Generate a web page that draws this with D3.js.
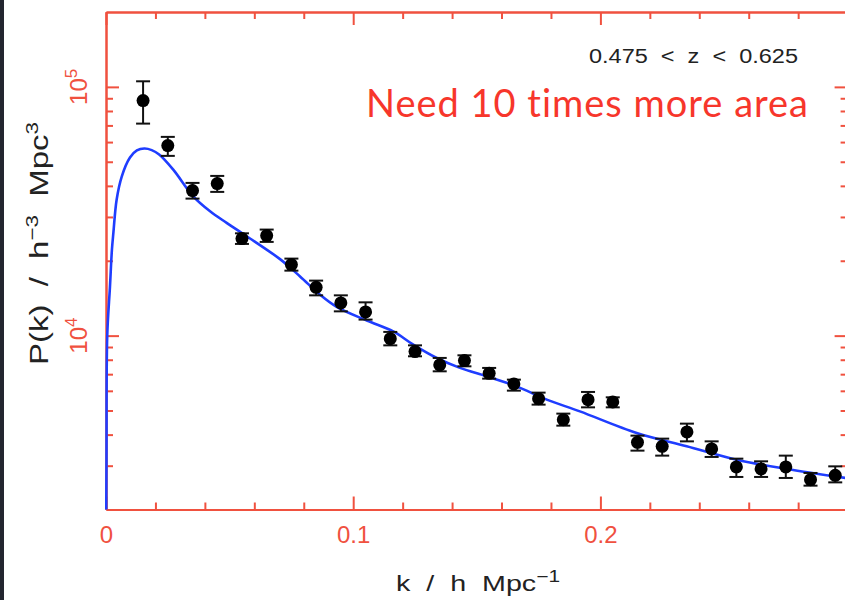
<!DOCTYPE html>
<html><head><meta charset="utf-8">
<script src="https://cdn.jsdelivr.net/npm/d3@7"></script>
<style>
html,body{margin:0;padding:0;background:#fff;overflow:hidden;}
svg{display:block;}
</style></head><body>
<svg id="c" width="845" height="600" font-family="Liberation Sans, Arial, Helvetica, sans-serif"></svg>
<script>
// ---- data ----
const kValues = [0.015,0.025,0.035,0.045,0.055,0.065,0.075,0.085,0.095,0.105,0.115,0.125,0.135,0.145,0.155,0.165,0.175,0.185,0.195,0.205,0.215,0.225,0.235,0.245,0.255,0.265,0.275,0.285,0.295];
const pValues = [88100,58070,38280,40850,24550,25240,19300,15640,13540,12450,9725,8626,7625,7935,7055,6395,5581,4594,5530,5413,3724,3588,4101,3503,2965,2911,2965,2636,2744];
const pUpper  = [105300,62950,41110,43860,25780,26690,20400,16640,14520,13610,10350,9140,8135,8335,7416,6654,5900,4858,5937,5649,3962,3854,4428,3758,3202,3124,3293,2805,2982];
const pLower  = [71180,52800,35550,37830,23370,23810,18250,14520,12520,11600,9140,8260,7187,7527,6716,6010,5280,4346,5149,5149,3449,3293,3758,3253,2703,2703,2678,2494,2571];

const modelK = [0,0.0002,0.0005,0.0016,0.0024,0.003,0.0043,0.0064,0.0097,0.0125,0.0155,0.0185,0.0215,0.0272,0.0353,0.0421,0.0488,0.0569,0.0704,0.0785,0.0866,0.0933,0.1055,0.1162,0.1243,0.1338,0.1432,0.154,0.1661,0.1783,0.1917,0.2147,0.2349,0.2551,0.2754,0.3];
const modelP = [1000,3200,10000,15700,22200,26000,35200,43700,52000,55500,56500,55700,53500,46500,36300,31600,28400,25100,20300,17300,14600,13050,11500,10400,9200,8130,7420,6860,6250,5530,4960,4060,3590,3170,2910,2670];

const xMajorTicks = [0,0.1,0.2];
const xTickLabels = ["0","0.1","0.2"];
const xMinorTicks = [0.02,0.04,0.06,0.08,0.12,0.14,0.16,0.18,0.22,0.24,0.26,0.28];
const yMajorTicks = [10000,100000];
const yTickExponents = ["4","5"];
const yMinorTicks = [3000,4000,5000,6000,7000,8000,9000,20000,30000,40000,50000,60000,70000,80000,90000];

const zRangeLabel = "0.475  <  z  <  0.625";
const annotation = "Need 10 times more area";

// ---- layout ----
const AXIS = "#f0513f", BLUE = "#1f3dff";
const L = 106, R = 847.6, T = 12, B = 509.5;
const svg = d3.select("#c");

svg.append("rect").attr("x",0).attr("y",0).attr("width",845).attr("height",600).attr("fill","#fff");
svg.append("rect").attr("x",0).attr("y",0).attr("width",4).attr("height",600).attr("fill","#23252f");

const x = d3.scaleLinear().domain([0,0.3]).range([L,R]);
const y = d3.scaleLog().domain([2000,200000]).range([B,T]);

function styleAxis(g){
  g.attr("font-family",null);
  g.selectAll("path.domain").attr("stroke",AXIS).attr("stroke-width",2);
  g.selectAll(".tick line").attr("stroke",AXIS).attr("stroke-width",2);
  g.selectAll(".tick text").attr("fill",AXIS);
}

// bottom
const gb = svg.append("g").attr("transform",`translate(0,${B})`)
  .call(d3.axisBottom(x).tickValues(xMajorTicks).tickSizeInner(-13).tickSizeOuter(0).tickPadding(16)
        .tickFormat((d,i)=>xTickLabels[i]));
styleAxis(gb);
gb.attr("font-size",24);
const gbm = svg.append("g").attr("transform",`translate(0,${B})`)
  .call(d3.axisBottom(x).tickValues(xMinorTicks).tickSizeInner(-7).tickSizeOuter(0).tickFormat(""));
styleAxis(gbm);
// top
const gt = svg.append("g").attr("transform",`translate(0,${T})`)
  .call(d3.axisTop(x).tickValues(xMajorTicks).tickSizeInner(-13).tickSizeOuter(0).tickFormat(""));
styleAxis(gt);
const gtm = svg.append("g").attr("transform",`translate(0,${T})`)
  .call(d3.axisTop(x).tickValues(xMinorTicks).tickSizeInner(-7).tickSizeOuter(0).tickFormat(""));
styleAxis(gtm);
// left
const gl = svg.append("g").attr("transform",`translate(${L},0)`)
  .call(d3.axisLeft(y).tickValues(yMajorTicks).tickSizeInner(-13).tickSizeOuter(0).tickFormat(""));
styleAxis(gl);
const glm = svg.append("g").attr("transform",`translate(${L},0)`)
  .call(d3.axisLeft(y).tickValues(yMinorTicks).tickSizeInner(-7).tickSizeOuter(0).tickFormat(""));
styleAxis(glm);
// right
const gr = svg.append("g").attr("transform",`translate(${R},0)`)
  .call(d3.axisRight(y).tickValues(yMajorTicks).tickSizeInner(-13).tickSizeOuter(0).tickFormat(""));
styleAxis(gr);
const grm = svg.append("g").attr("transform",`translate(${R},0)`)
  .call(d3.axisRight(y).tickValues(yMinorTicks).tickSizeInner(-7).tickSizeOuter(0).tickFormat(""));
styleAxis(grm);

// y tick labels (10^n), rotated
yMajorTicks.forEach((v,i)=>{
  const t = svg.append("text")
    .attr("transform",`translate(87,${y(v)}) rotate(-90)`)
    .attr("text-anchor","middle").attr("fill",AXIS).attr("font-size",24);
  t.append("tspan").text("10");
  t.append("tspan").attr("dy",-10).attr("font-size",17).text(yTickExponents[i]);
});

// clip
svg.append("clipPath").attr("id","clip").append("rect")
  .attr("x",L-1.5).attr("y",T).attr("width",R-L+2).attr("height",B-T);

// model curve
const line = d3.line().x(d=>x(d[0])).y(d=>y(d[1])).curve(d3.curveCatmullRom.alpha(0.5));
svg.append("path").datum(modelK.map((k,i)=>[k,modelP[i]]))
  .attr("clip-path","url(#clip)")
  .attr("d",line).attr("fill","none").attr("stroke",BLUE).attr("stroke-width",2.6).attr("stroke-linejoin","round");

// data points with error bars
const pts = kValues.map((k,i)=>({k,p:pValues[i],hi:pUpper[i],lo:pLower[i]}));
const g = svg.append("g");
const cap = 7;
const eb = g.selectAll("g.eb").data(pts).enter().append("g");
eb.append("line").attr("x1",d=>x(d.k)).attr("x2",d=>x(d.k)).attr("y1",d=>y(d.hi)).attr("y2",d=>y(d.lo))
  .attr("stroke","#111").attr("stroke-width",2);
eb.append("line").attr("x1",d=>x(d.k)-cap).attr("x2",d=>x(d.k)+cap).attr("y1",d=>y(d.hi)).attr("y2",d=>y(d.hi))
  .attr("stroke","#111").attr("stroke-width",2);
eb.append("line").attr("x1",d=>x(d.k)-cap).attr("x2",d=>x(d.k)+cap).attr("y1",d=>y(d.lo)).attr("y2",d=>y(d.lo))
  .attr("stroke","#111").attr("stroke-width",2);
eb.append("circle").attr("cx",d=>x(d.k)).attr("cy",d=>y(d.p)).attr("r",6.5).attr("fill","#000");

// texts
svg.append("text").attr("x",589).attr("y",63).attr("font-size",20).attr("fill","#222")
  .attr("textLength",209).attr("lengthAdjust","spacingAndGlyphs").style("white-space","pre").text(zRangeLabel);
svg.append("text").attr("x",366).attr("y",117).attr("font-size",38)
  .style("font-family","Lato, 'Open Sans', sans-serif").style("font-variant-ligatures","none")
  .style("font-feature-settings","'liga' 0")
  .attr("fill","#f7362b")
  .attr("textLength",442).attr("lengthAdjust","spacing").text(annotation);

// axis titles
const xt = svg.append("text").attr("x",396).attr("y",591).attr("font-size",22).attr("fill","#222")
  .style("white-space","pre").attr("textLength",164).attr("lengthAdjust","spacingAndGlyphs");
xt.append("tspan").text("k  /  h  Mpc");
xt.append("tspan").attr("dy",-9).attr("font-size",16).text("\u22121");

const yt = svg.append("text").attr("transform","translate(48,365) rotate(-90)").attr("font-size",25).attr("fill","#222")
  .style("white-space","pre").attr("textLength",243).attr("lengthAdjust","spacingAndGlyphs");
yt.append("tspan").text("P(k)  /  h");
yt.append("tspan").attr("dy",-10).attr("font-size",17).text("\u22123");
yt.append("tspan").attr("dy",10).text("  Mpc");
yt.append("tspan").attr("dy",-10).attr("font-size",17).text("3");
</script>
</body></html>
